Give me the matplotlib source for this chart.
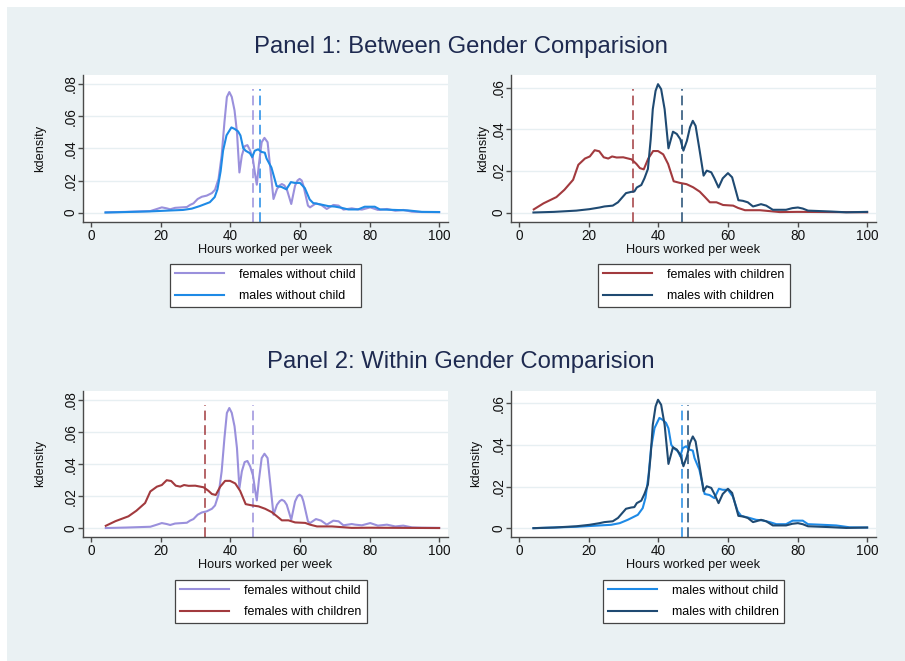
import matplotlib
matplotlib.use("Agg")
import matplotlib.pyplot as plt
from matplotlib.lines import Line2D
from matplotlib.patches import Rectangle

plt.rcParams['font.family'] = ['Liberation Sans', 'DejaVu Sans']
plt.rcParams['lines.scale_dashes'] = False

# ---------------- data ----------------
hours_f_nochild = [4.2, 10, 17, 18.9, 20.3, 21.7, 22.7, 24.1, 26.1, 27.5, 28.4, 29.4, 30.6, 31.8,
                   33.2, 34.7, 35.6, 36.6, 37.5, 38.3, 39.0, 39.7, 40.4, 41.2, 41.9, 42.6, 43.3,
                   44.1, 44.9, 45.7, 46.5, 47.1, 47.6, 48.2, 49.0, 49.8, 50.7, 51.4, 52.4, 53.4,
                   54.2, 54.8, 55.5, 56.2, 57.5, 58.6, 59.3, 59.9, 60.5, 61.0, 62.3, 62.9, 64.6,
                   66.1, 67.7, 69.6, 71.1, 72.5, 74.9, 75.9, 77.8, 80.2, 82.4, 85.0, 87.4, 89.7,
                   92.2, 95, 100]
dens_f_nochild = [0.0002, 0.0005, 0.001, 0.0023, 0.0033, 0.0027, 0.0021, 0.003, 0.0033, 0.0035,
                  0.0048, 0.0058, 0.0085, 0.0099, 0.0106, 0.0122, 0.0143, 0.021, 0.0355, 0.0563,
                  0.0719, 0.075, 0.072, 0.0636, 0.050, 0.025, 0.0355, 0.0413, 0.042, 0.0386,
                  0.033, 0.024, 0.0174, 0.030, 0.0438, 0.0465, 0.0438, 0.0293, 0.0085, 0.0147,
                  0.0170, 0.0178, 0.0170, 0.0147, 0.0054, 0.0168, 0.0200, 0.021, 0.0200, 0.0168,
                  0.0044, 0.0033, 0.0058, 0.0048, 0.0023, 0.0048, 0.0044, 0.0019, 0.0027, 0.0023,
                  0.0019, 0.0033, 0.0017, 0.0023, 0.0012, 0.0017, 0.0006, 0.0004, 0.0003]

hours_f_child = [4.2, 7, 10.7, 13, 15.5, 17, 18.9, 20.3, 21.7, 23.0, 24.3, 25.6, 26.7, 28.0, 29.9,
                 32.3, 33.7, 34.7, 35.8, 37.1, 38.5, 39.9, 41.4, 42.8, 44.4, 46.2, 48.1, 50.0,
                 51.9, 53.4, 54.8, 56.7, 58.6, 61.5, 62.9, 64.9, 69.2, 74.9, 80, 90, 100]
dens_f_child = [0.0016, 0.0045, 0.0075, 0.011, 0.0158, 0.023, 0.026, 0.027, 0.030, 0.0295, 0.0266,
                0.026, 0.027, 0.0265, 0.0266, 0.0256, 0.0234, 0.0214, 0.0208, 0.026, 0.0296,
                0.0296, 0.028, 0.0234, 0.0151, 0.0143, 0.0137, 0.0122, 0.0101, 0.0075, 0.005,
                0.005, 0.0037, 0.0034, 0.0023, 0.0012, 0.0012, 0.0003, 0.0004, 0.0003, 0.0002]

hours_m_nochild = [4.1, 10, 17, 23.1, 26.4, 28.9, 31.2, 34.1, 35.5, 36.3, 37.2, 37.9, 38.9, 40.3,
                   41.2, 42.2, 42.9, 43.7, 44.4, 45.6, 46.3, 47.0, 48.0, 48.9, 49.9, 50.4, 51.8,
                   53.3, 54.7, 56.1, 57.4, 58.5, 60.0, 61.4, 62.8, 63.8, 66.2, 68.1, 70.0, 72.0,
                   73.9, 76.7, 78.6, 81.5, 83.0, 87.3, 91.1, 95.0, 100]
dens_m_nochild = [0.0001, 0.0004, 0.0008, 0.0014, 0.0017, 0.0025, 0.0041, 0.0065, 0.0097, 0.0146,
                  0.0257, 0.0385, 0.0481, 0.053, 0.0521, 0.0506, 0.048, 0.0401, 0.0385, 0.037,
                  0.0346, 0.0385, 0.0394, 0.0378, 0.0373, 0.0337, 0.0281, 0.0165, 0.016, 0.0145,
                  0.019, 0.0185, 0.0185, 0.0153, 0.0082, 0.006, 0.005, 0.0041, 0.0038, 0.003,
                  0.002, 0.002, 0.0037, 0.0037, 0.002, 0.0017, 0.0014, 0.0005, 0.0004]

hours_m_child = [4.1, 10, 16.4, 20.2, 23.1, 24.5, 26.9, 28.4, 29.6, 30.7, 32.2, 33.1, 33.8, 35.1,
                 36.0, 37.0, 37.8, 38.4, 39.2, 39.9, 40.8, 41.8, 42.9, 44.2, 45.3, 46.3, 47.2,
                 48.2, 49.1, 49.9, 50.7, 51.8, 53.0, 53.9, 55.2, 56.1, 57.3, 58.5, 60.0, 61.2,
                 62.4, 63.0, 64.3, 65.7, 67.2, 68.1, 69.5, 71.0, 72.9, 76.7, 78.5, 80.1, 81.5,
                 83.0, 89.2, 94.0, 100]
dens_m_child = [0.0001, 0.0004, 0.001, 0.0017, 0.0025, 0.003, 0.0034, 0.005, 0.0073, 0.0094,
                0.010, 0.0102, 0.0121, 0.0133, 0.0165, 0.021, 0.0353, 0.0497, 0.0585, 0.0617,
                0.0593, 0.0497, 0.0309, 0.0389, 0.0378, 0.0353, 0.0298, 0.0345, 0.041, 0.0441,
                0.0417, 0.0305, 0.0178, 0.0202, 0.0194, 0.0165, 0.0121, 0.0165, 0.019, 0.017,
                0.0097, 0.006, 0.0057, 0.005, 0.003, 0.0034, 0.0041, 0.0034, 0.0014, 0.0014,
                0.0022, 0.0025, 0.0020, 0.001, 0.0006, 0.0002, 0.0004]

# mean-hour reference lines as drawn in each panel (same order as the panel's series)
means_p1_left = [46.5, 48.6]    # females w/o child, males w/o child
means_p1_right = [32.6, 46.7]   # females with children, males with children
means_p2_left = [46.5, 32.6]    # females w/o child, females with children
means_p2_right = [46.7, 48.6]   # males w/o child, males with children

labels = {
    'fn': 'females without child',
    'fc': 'females with children',
    'mn': 'males without child',
    'mc': 'males with children',
}
titles = ['Panel 1: Between Gender Comparision', 'Panel 2: Within Gender Comparision']
x_ticks = [0, 20, 40, 60, 80, 100]
y_ticks_8 = [0, 0.02, 0.04, 0.06, 0.08]
y_ticks_6 = [0, 0.02, 0.04, 0.06]

# ---------------- styling ----------------
series = {
    'fn': (hours_f_nochild, dens_f_nochild, '#9a90dc'),
    'fc': (hours_f_child, dens_f_child, '#a23a3e'),
    'mn': (hours_m_nochild, dens_m_nochild, '#1e8ae6'),
    'mc': (hours_m_child, dens_m_child, '#1f4a72'),
}

W, H = 905, 661
fig = plt.figure(figsize=(W / 100, H / 100), dpi=100, facecolor='white')
BG = '#eaf1f3'
fig.patches.append(Rectangle((7 / W, 0), 1 - 7 / W, 1 - 7 / H, transform=fig.transFigure,
                             facecolor=BG, edgecolor='none', zorder=-10))

AX_COL = '#4a4a4a'
FS = 9.0


def tick_fmt(v):
    if v == 0:
        return '0'
    return ('%.2f' % v).lstrip('0')


def make_panel(rect, keys, means, ylim, yticks, legend_center, ylabel_x):
    ax = fig.add_axes([rect[0] / W, 1 - rect[3] / H, (rect[2] - rect[0]) / W, (rect[3] - rect[1]) / H])
    ax.set_facecolor('white')
    for s in ['top', 'right']:
        ax.spines[s].set_visible(False)
    for s in ['left', 'bottom']:
        ax.spines[s].set_color(AX_COL)
        ax.spines[s].set_linewidth(1.0)
    ax.set_xlim(-2.35, 102.55)
    ax.set_ylim(*ylim)
    ax.set_xticks(x_ticks)
    ax.set_xticklabels([str(t) for t in x_ticks], fontsize=FS + 0.8)
    ax.set_yticks(yticks)
    ax.set_yticklabels([tick_fmt(t) for t in yticks], fontsize=FS + 0.8, rotation=90, va='center')
    ax.tick_params(axis='both', length=3.6, width=1, color=AX_COL, labelcolor='#111111')
    ax.tick_params(axis='y', pad=0.3)
    ax.tick_params(axis='x', pad=1.5)
    ax.grid(axis='y', color='#e7eff2', linewidth=1.0)
    ax.set_axisbelow(True)
    ax.set_xlabel('Hours worked per week', fontsize=FS + 0.2, labelpad=1, color='#111111')
    ax.set_ylabel('kdensity', fontsize=FS + 0.2, color='#111111')
    ax.yaxis.set_label_coords((ylabel_x - rect[0]) / (rect[2] - rect[0]), 0.5)
    ax.yaxis.label.set_va('center')
    handles = []
    for k in keys:
        xs, ys, c = series[k]
        ax.plot(xs, ys, color=c, lw=1.5, solid_joinstyle='round', zorder=3)
        handles.append(Line2D([], [], color=c, lw=1.5))
    for k, m in zip(keys, means):
        c = series[k][2]
        ax.axvline(m, ymin=0, ymax=0.903, color=c, lw=1.1, dashes=(7, 3.5), zorder=2)
    leg = fig.legend(handles, [labels[k] for k in keys], loc='center',
                     bbox_to_anchor=(legend_center[0] / W, 1 - legend_center[1] / H),
                     fontsize=FS, frameon=True, fancybox=False, edgecolor='#444444',
                     facecolor='white', framealpha=1, handlelength=3.9, handletextpad=1.2,
                     labelspacing=0.75, borderpad=0.42)
    leg.get_frame().set_linewidth(0.9)
    return ax


make_panel((83, 75, 448, 222), ['fn', 'mn'], means_p1_left, (-0.0058, 0.0856), y_ticks_8,
           (265.5, 285.5), 40)
make_panel((511, 75, 876, 222), ['fc', 'mc'], means_p1_right, (-0.00446, 0.0661), y_ticks_6,
           (694, 285.5), 483)
make_panel((83, 391, 448, 536.7), ['fn', 'fc'], means_p2_left, (-0.0052, 0.0856), y_ticks_8,
           (271, 601.5), 40)
make_panel((511, 391, 876, 536.7), ['mn', 'mc'], means_p2_right, (-0.004, 0.0659), y_ticks_6,
           (693.5, 601.5), 476)

fig.text(461 / W, 1 - 47 / H, titles[0], ha='center', va='center', fontsize=17.2, color='#1e2a50')
fig.text(461 / W, 1 - 362 / H, titles[1], ha='center', va='center', fontsize=17.2, color='#1e2a50')

fig.savefig('out.png', dpi=100, facecolor=fig.get_facecolor())
